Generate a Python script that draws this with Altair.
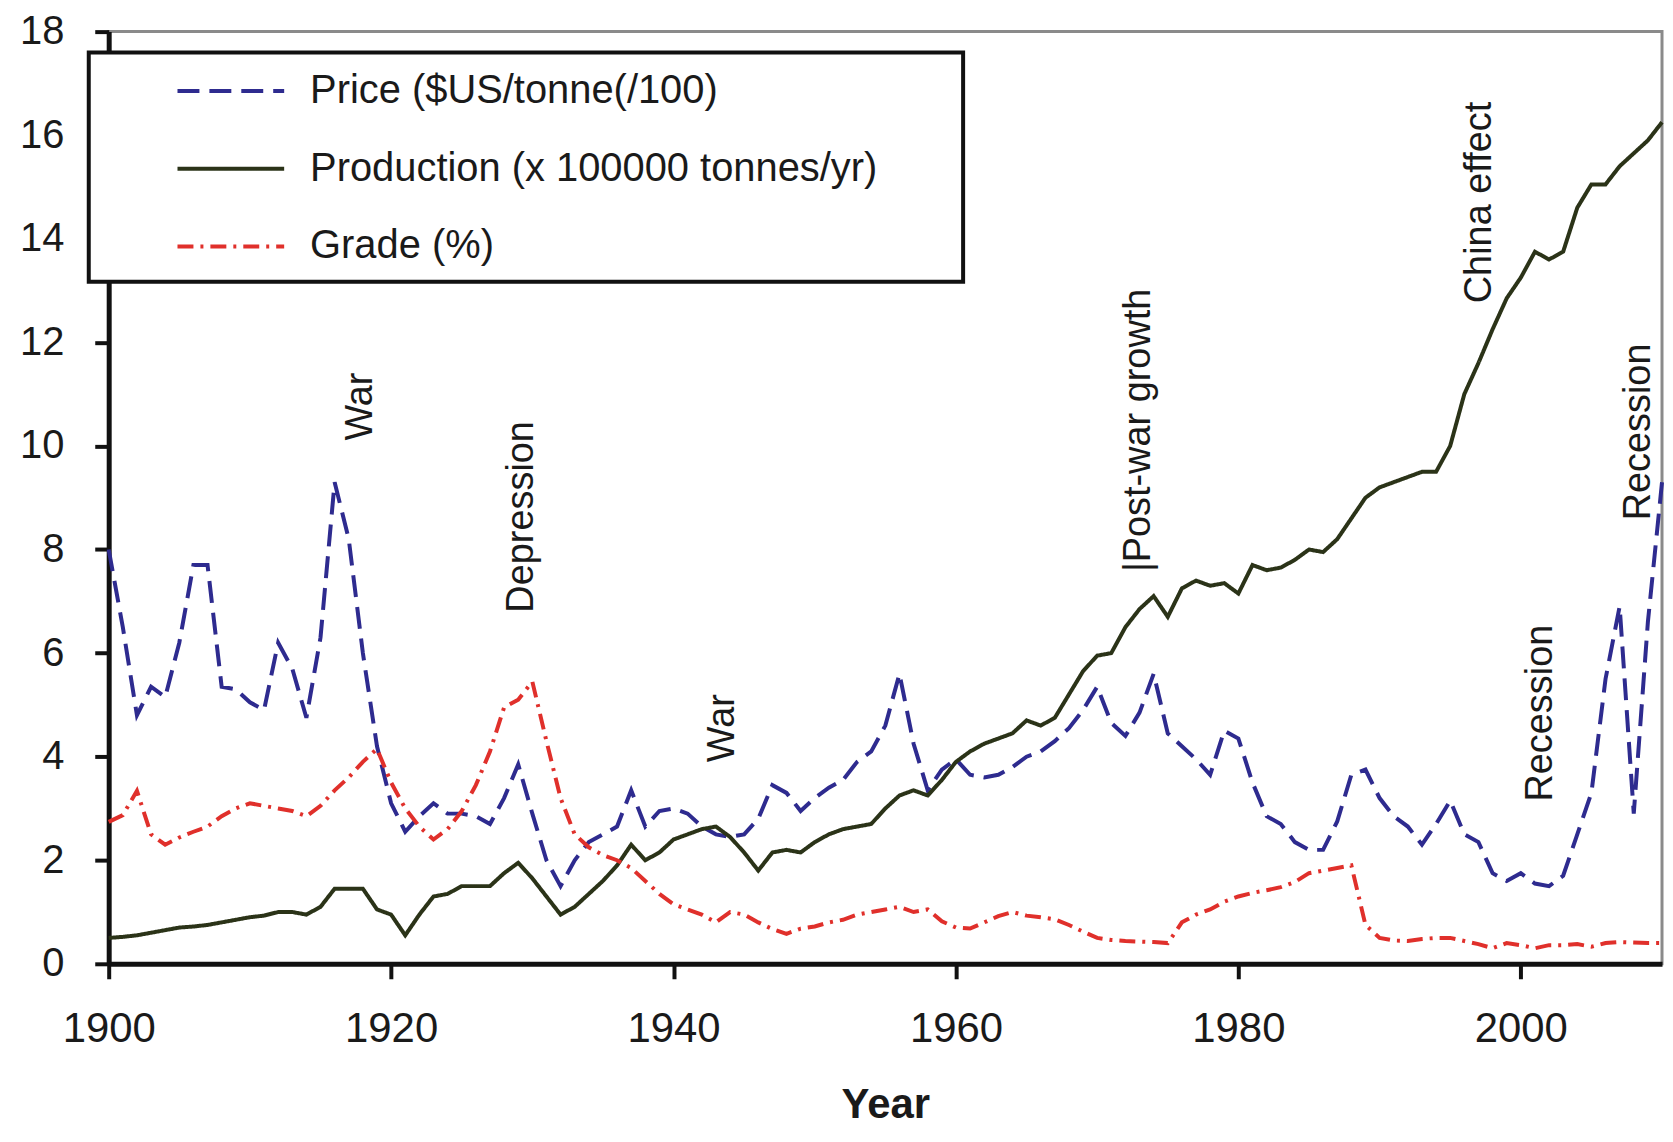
import altair as alt
import pandas as pd

years = list(range(1900, 2011))

price = [
    8.0, 6.5, 4.8, 5.35, 5.15, 6.2, 7.7, 7.7, 5.35, 5.3,
    5.05, 4.9, 6.2, 5.7, 4.75, 6.3, 9.3, 8.2, 6.0, 4.2,
    3.1, 2.55, 2.85, 3.1, 2.9, 2.9, 2.85, 2.7, 3.2, 3.85,
    2.9, 2.0, 1.5, 2.0, 2.35, 2.5, 2.65, 3.35, 2.65, 2.95,
    3.0, 2.9, 2.65, 2.5, 2.45, 2.5, 2.8, 3.45, 3.3, 2.95,
    3.2, 3.4, 3.55, 3.9, 4.1, 4.6, 5.6, 4.25, 3.35, 3.75,
    3.95, 3.65, 3.6, 3.65, 3.8, 4.0, 4.1, 4.3, 4.55, 4.9,
    5.35, 4.65, 4.4, 4.85, 5.6, 4.45, 4.2, 3.95, 3.65, 4.5,
    4.35, 3.5, 2.85, 2.7, 2.35, 2.2, 2.2, 2.75, 3.65, 3.75,
    3.2, 2.85, 2.65, 2.3, 2.7, 3.15, 2.5, 2.35, 1.75, 1.6,
    1.75, 1.55, 1.5, 1.7, 2.5, 3.3, 5.5, 6.9, 2.9, 6.6, 9.3,
]

production = [
    0.5, 0.52, 0.55, 0.6, 0.65, 0.7, 0.72, 0.75, 0.8, 0.85,
    0.9, 0.93, 1.0, 1.0, 0.95, 1.1, 1.45, 1.45, 1.45, 1.05,
    0.95, 0.55, 0.95, 1.3, 1.35, 1.5, 1.5, 1.5, 1.75, 1.95,
    1.65, 1.3, 0.95, 1.1, 1.35, 1.6, 1.9, 2.3, 2.0, 2.15,
    2.4, 2.5, 2.6, 2.65, 2.45, 2.15, 1.8, 2.15, 2.2, 2.15,
    2.35, 2.5, 2.6, 2.65, 2.7, 3.0, 3.25, 3.35, 3.25, 3.55,
    3.9, 4.1, 4.25, 4.35, 4.45, 4.7, 4.6, 4.75, 5.2, 5.65,
    5.95, 6.0, 6.5, 6.85, 7.1, 6.7, 7.25, 7.4, 7.3, 7.35,
    7.15, 7.7, 7.6, 7.65, 7.8, 8.0, 7.95, 8.2, 8.6, 9.0,
    9.2, 9.3, 9.4, 9.5, 9.5, 10.0, 11.0, 11.6, 12.25, 12.85,
    13.25, 13.75, 13.6, 13.75, 14.6, 15.05, 15.05, 15.4, 15.65, 15.9, 16.25,
]

grade = [
    2.74, 2.87, 3.34, 2.5, 2.3, 2.44, 2.55, 2.65, 2.85, 3.0,
    3.1, 3.05, 3.0, 2.95, 2.85, 3.05, 3.35, 3.6, 3.9, 4.15,
    3.5, 3.0, 2.65, 2.4, 2.6, 2.95, 3.45, 4.1, 4.95, 5.1,
    5.45, 4.3, 3.2, 2.5, 2.25, 2.1, 2.0, 1.85, 1.6, 1.35,
    1.15, 1.05, 0.95, 0.8, 1.0, 0.95, 0.8, 0.67, 0.58, 0.68,
    0.72, 0.8, 0.85, 0.95, 1.0, 1.05, 1.1, 1.0, 1.05, 0.82,
    0.7, 0.68, 0.8, 0.92, 1.0, 0.93, 0.9, 0.86, 0.75, 0.62,
    0.5, 0.46, 0.44, 0.43, 0.42, 0.4, 0.8, 0.95, 1.05, 1.2,
    1.3, 1.37, 1.42, 1.48, 1.58, 1.75, 1.8, 1.85, 1.9, 0.75,
    0.5, 0.45, 0.44, 0.48, 0.5, 0.5, 0.44, 0.38, 0.3, 0.4,
    0.36, 0.3, 0.36, 0.36, 0.38, 0.33, 0.4, 0.42, 0.41, 0.4, 0.4,
]

series_names = ["Price ($US/tonne(/100)", "Production (x 100000  tonnes/yr)", "Grade (%)"]
series_colors = ["#2e2b8f", "#2b3318", "#e0302b"]
series_dashes = [[22, 10], [1, 0], [16, 7, 3, 7]]

ann_text = ["War", "Depression", "War", "|Post-war growth", "China effect", "Recession", "Recession"]
ann_year = [1917.9, 1929.3, 1943.5, 1973.0, 1997.1, 2001.4, 2008.4]
ann_value = [10.76, 8.63, 4.55, 10.3, 14.7, 4.84, 10.27]

x_ticks = [1900, 1920, 1940, 1960, 1980, 2000]
y_ticks = list(range(0, 19, 2))

rows = []
for name, vals in zip(series_names, [price, production, grade]):
    for yr, v in zip(years, vals):
        rows.append({"year": yr, "value": v, "series": name})
df = pd.DataFrame(rows)

ann_df = pd.DataFrame({"text": ann_text, "year": ann_year, "value": ann_value})

FONT = "Liberation Sans"
TXT = "#1a1a1a"

x_scale = alt.Scale(domain=[1900, 2010], nice=False, zero=False)
y_scale = alt.Scale(domain=[0, 18], nice=False)

lines = alt.Chart(df).mark_line(strokeWidth=4).encode(
    x=alt.X("year:Q", scale=x_scale,
            axis=alt.Axis(values=x_ticks, format="d", title="Year",
                          tickSize=15, labelPadding=50, labelBaseline="middle",
                          labelFlush=False, labelFontSize=42,
                          titleY=141, titleBaseline="middle",
                          titleFontSize=42, titleFontWeight="bold")),
    y=alt.Y("value:Q", scale=y_scale,
            axis=alt.Axis(values=y_ticks, title=None, tickSize=14, labelPadding=31,
                          labelFontSize=40)),
    color=alt.Color("series:N", scale=alt.Scale(domain=series_names, range=series_colors),
                    legend=alt.Legend(title=None), sort=series_names),
    strokeDash=alt.StrokeDash("series:N", scale=alt.Scale(domain=series_names, range=series_dashes),
                              legend=alt.Legend(title=None), sort=series_names),
    order="year:Q",
)

texts = alt.Chart(ann_df).mark_text(
    angle=270, align="center", baseline="middle", font=FONT, fontSize=38, color=TXT
).encode(
    x=alt.X("year:Q", scale=x_scale),
    y=alt.Y("value:Q", scale=y_scale),
    text="text:N",
)

box = alt.Chart(alt.Data(values=[{"k": 1}])).mark_rect(
    fill="white", stroke="#111111", strokeWidth=4
).encode(
    x=alt.value(-20), x2=alt.value(857), y=alt.value(21), y2=alt.value(251)
)

chart = alt.layer(lines, texts, box).properties(
    width=1558, height=935,
    autosize=alt.AutoSizeParams(type="none"),
    padding={"left": 101, "top": 22, "right": 3, "bottom": 164},
).configure_view(
    stroke="#8a8a8a", strokeWidth=3
).configure_axis(
    grid=False, domainColor="#111111", domainWidth=5, tickColor="#111111", tickWidth=4,
    labelFont=FONT, labelColor=TXT, titleFont=FONT, titleColor=TXT,
).configure_legend(
    orient="none", legendX=67, legendY=4, padding=0,
    symbolType="stroke", symbolSize=11449, symbolStrokeWidth=4,
    labelFont=FONT, labelFontSize=40, labelColor=TXT, labelOffset=24,
    rowPadding=2, labelLimit=900,
)

chart.save("out.html", embed_options={"renderer": "svg", "actions": False})
